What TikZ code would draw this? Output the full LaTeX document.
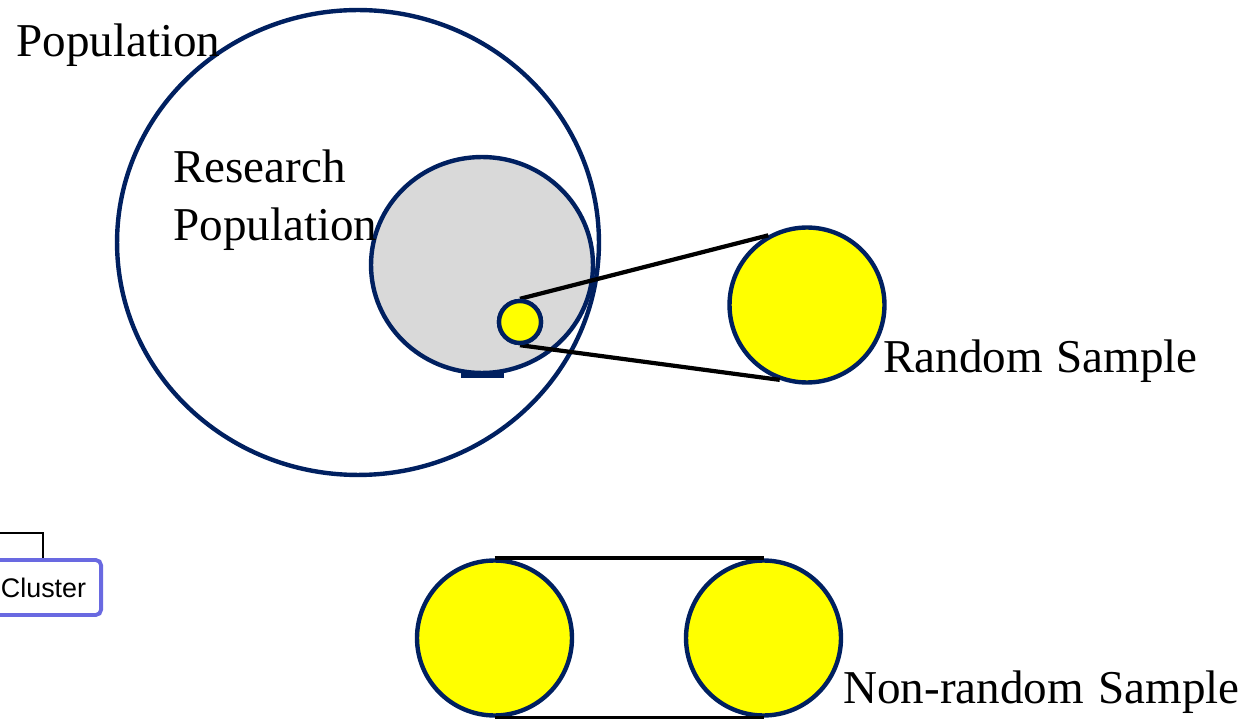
\documentclass[tikz,border=0pt]{standalone}
\usepackage{fontspec}
\setmainfont{Liberation Serif}
\newfontfamily\clusterfont{Liberation Sans}
\usetikzlibrary{shapes.geometric}
\definecolor{navy}{RGB}{0,32,96}
\definecolor{graybg}{RGB}{217,217,217}
\definecolor{yel}{RGB}{255,255,0}
\definecolor{clusterblue}{RGB}{105,105,225}
\tikzset{
  outline/.style={draw=navy, line width=2.5pt},
  yelcirc/.style={circle, outline, fill=yel, inner sep=0pt},
  joinline/.style={draw=black, line width=2.4pt},
  lbl/.style={font=\fontsize{26.8}{31.3}\selectfont, inner sep=0pt, anchor=base west},
  clusterbox/.style={draw=clusterblue, line width=2.2pt, rounded corners=3pt, fill=white,
     font=\clusterfont\fontsize{15.3}{17}\selectfont, inner xsep=8.5pt, inner ysep=0pt,
     text width=64.4pt, align=right, minimum height=31.3pt},
}
\begin{document}
\begin{tikzpicture}[x=0.02cm,y=-0.02cm]
\useasboundingbox (0,0) rectangle (1258,719);
% research population (gray)
\node[ellipse, fill=graybg, outline, minimum width=4.44cm, minimum height=4.32cm, inner sep=0pt] (research) at (482,265) {};
\fill[navy] (461,373) rectangle (504,378);
% population
\node[ellipse, outline, minimum width=9.64cm, minimum height=9.3cm, inner sep=0pt] (pop) at (358,242.5) {};
% random sample
\node[yelcirc, minimum size=3.1cm] (rs) at (807,305) {};
\node[yelcirc, minimum size=0.84cm] (small) at (520,322) {};
\draw[joinline] (small.north) -- (rs.119);
\draw[joinline] (small.south) -- (rs.250);
\node[yelcirc, minimum size=0.84cm] at (520,322) {};
% non-random sample
\node[yelcirc, minimum size=3.1cm] (nr1) at (494.5,638) {};
\node[yelcirc, minimum size=3.1cm] (nr2) at (763.5,638) {};
\draw[joinline] (nr1.north) -- (nr2.north);
\draw[joinline] (nr1.south) -- (nr2.south);
% labels
\node[lbl] (poplbl) at (16,57) {Population};
\node[lbl] (reslbl1) at (173,183) {Research};
\node[lbl] (reslbl2) at (173,241) {Population};
\node[lbl] (rslbl) at (883,373) {Random\hspace{7.8pt}Sample};
\node[lbl] (nrlbl) at (843,703) {Non-random\hspace{8.2pt}Sample};
% cluster box
\node[clusterbox, anchor=east] (cluster) at (103,587.5) {Cluster};
\coordinate (cl1) at (0,533);
\coordinate (cl2) at (43,558);
\draw[line width=1.1pt] (cl1) -| (cl2);
\end{tikzpicture}
\end{document}
